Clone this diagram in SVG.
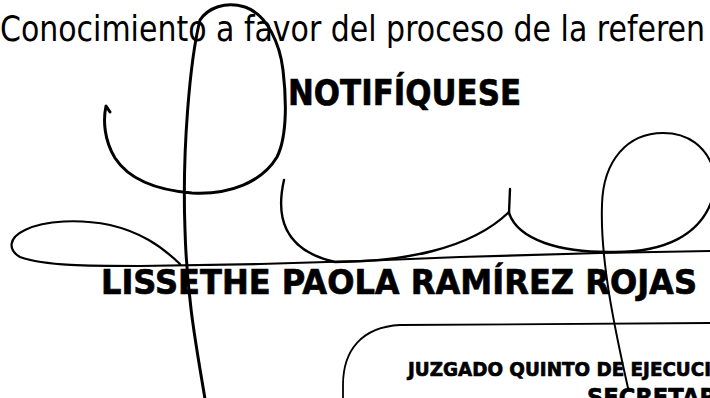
<svg xmlns="http://www.w3.org/2000/svg" width="710" height="398" viewBox="0 0 710 398">
<style>
.t{font-family:"DejaVu Sans","Liberation Sans",sans-serif;fill:#000}
.b{font-weight:bold;stroke:#000;stroke-width:0.7;stroke-linejoin:round}
.sig{fill:none;stroke:#000;stroke-linecap:round;stroke-linejoin:round}
</style>
<rect width="710" height="398" fill="#fff"/>
<g id="text">
<text class="t" x="0" y="41" font-size="36" textLength="705" lengthAdjust="spacingAndGlyphs">Conocimiento a favor del proceso de la referen</text>
<text class="t b" x="288" y="105" font-size="36" textLength="233" lengthAdjust="spacingAndGlyphs">NOTIFÍQUESE</text>
<text class="t b" x="101" y="294" font-size="34" textLength="596" lengthAdjust="spacingAndGlyphs">LISSETHE PAOLA RAMÍREZ ROJAS</text>
<text class="t b" x="408" y="376" font-size="19" textLength="303" lengthAdjust="spacingAndGlyphs">JUZGADO QUINTO DE EJECUCI</text>
<text class="t b" x="587" y="406" font-size="25" textLength="130" lengthAdjust="spacingAndGlyphs">SECRETAR</text>
</g>
<g id="stamp">
<path class="sig" stroke-width="1.8" d="M343,399 L343,385 C343,350 362,327 400,325 L711,323"/>
</g>
<g id="signature">
<path class="sig" stroke-width="3" d="M110,112 L106,106 C103,120 104,140 115,158 C128,178 155,190 192,193 C230,195 262,182 277,157 C288,135 286,95 283,70 C280,45 268,15 245,7 C225,1 208,8 200,20 C190,60 182,150 185,230 C187,300 197,350 205,399"/>
<path class="sig" stroke-width="2.2" d="M180,264 C160,245 140,232 110,225 C80,219 45,220 25,230 C8,238 8,250 20,257 C45,266 90,266 140,266 L260,264 L360,261 L460,257 L600,253 L711,251"/>
<path class="sig" stroke-width="2.4" d="M284,180 C276,215 282,250 335,262 C400,262 470,250 509,212"/>
<path class="sig" stroke-width="2.4" d="M510,189 L509,213 C518,240 560,253 615,252 C665,252 700,235 712,200"/>
<path class="sig" stroke-width="2" d="M628,388 C615,330 600,260 602,205 C603,160 628,133 663,133 C690,133 705,148 712,165"/>
</g>
</svg>
